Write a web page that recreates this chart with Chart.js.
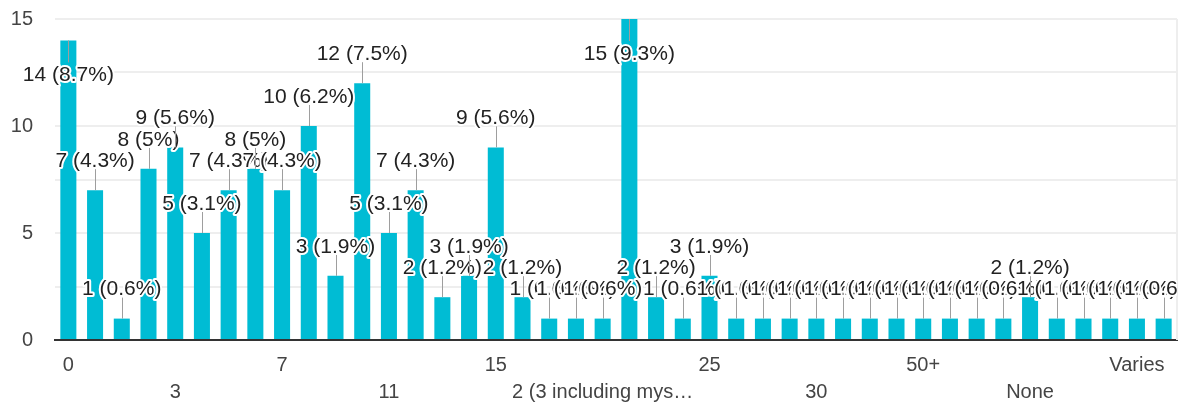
<!DOCTYPE html>
<html>
<head>
<meta charset="utf-8">
<script src="https://cdn.jsdelivr.net/npm/chart.js@4.4.1/dist/chart.umd.min.js"></script>
<style>
  html, body { margin: 0; padding: 0; background: #fff; }
  #wrap { width: 1190px; height: 406px; position: relative; }
</style>
</head>
<body>
<div id="wrap"><canvas id="c"></canvas></div>
<script>
// Answers and how many responses each one got
const categories = [
  '0', '1', '1.5', '2', '3', '4', '5', '6', '7', '8', '9', '10', '11', '12', '13', '14',
  '15', '16', '17', '18', '2 (3 including mys…', '20', '21', '22', '25', '26', '27', '28',
  '30', '32', '35', '40', '50+', '45', '60', '100', 'None', 'Not sure', 'Too many',
  'Unknown', 'Varies', 'Many'
];
const counts = [
  14, 7, 1, 8, 9, 5, 7, 8, 7, 10, 3, 12, 5, 7, 2, 3,
  9, 2, 1, 1, 1, 15, 2, 1, 3, 1, 1, 1,
  1, 1, 1, 1, 1, 1, 1, 1, 2, 1, 1,
  1, 1, 1
];
const yLabelValues = [0, 5, 10, 15];
const labelEvery = 4;

const FONT = '"Liberation Sans", Arial, sans-serif';
const total = counts.reduce((a, b) => a + b, 0);

function fmtPct(v) {
  return String(Math.round(v / total * 1000) / 10);
}

// count (percent) annotations with leader stems and a white halo
const valueLabels = {
  id: 'valueLabels',
  afterDatasetsDraw(chart) {
    const { ctx, chartArea } = chart;
    const meta = chart.getDatasetMeta(0);
    ctx.save();
    ctx.beginPath();
    ctx.rect(0, 0, chartArea.right, chart.height);
    ctx.clip();
    ctx.font = '21px ' + FONT;
    ctx.textAlign = 'center';
    ctx.textBaseline = 'middle';
    meta.data.forEach((bar, i) => {
      const v = counts[i];
      const text = v + ' (' + fmtPct(v) + '%)';
      const top = bar.y;
      let stemEnd, ty;
      if (top - 41 < chartArea.top) {
        stemEnd = top + 22; ty = top + 35;
      } else {
        stemEnd = top - 21; ty = top - 29;
      }
      const sx = Math.round(bar.x) + 0.5;
      ctx.strokeStyle = '#9e9e9e';
      ctx.lineWidth = 1;
      ctx.beginPath();
      ctx.moveTo(sx, top);
      ctx.lineTo(sx, stemEnd);
      ctx.stroke();
      ctx.lineWidth = 4;
      ctx.lineJoin = 'round';
      ctx.strokeStyle = '#ffffff';
      ctx.strokeText(text, bar.x, ty);
      ctx.fillStyle = '#222222';
      ctx.fillText(text, bar.x, ty);
    });
    ctx.restore();
  }
};

// light frame line on the right side of the plot
const plotEdge = {
  id: 'plotEdge',
  beforeDatasetsDraw(chart) {
    const { ctx, chartArea } = chart;
    ctx.save();
    ctx.strokeStyle = '#eeeeee';
    ctx.lineWidth = 2;
    ctx.beginPath();
    ctx.moveTo(chartArea.right, chartArea.top);
    ctx.lineTo(chartArea.right, chartArea.bottom);
    ctx.stroke();
    ctx.restore();
  }
};

new Chart(document.getElementById('c'), {
  type: 'bar',
  data: {
    labels: categories,
    datasets: [{
      data: counts,
      backgroundColor: '#00bcd4',
      borderWidth: 0,
      barPercentage: 0.6,
      categoryPercentage: 1.0
    }]
  },
  options: {
    responsive: true,
    maintainAspectRatio: false,
    animation: false,
    events: [],
    layout: { padding: { top: 19, right: 13, bottom: 0, left: 0 } },
    plugins: {
      legend: { display: false },
      tooltip: { enabled: false }
    },
    scales: {
      x: {
        offset: true,
        grid: { display: false, drawTicks: false },
        border: { display: true, color: '#333333', width: 2 },
        afterFit(s) { s.height = 66; },
        ticks: {
          autoSkip: false,
          minRotation: 0,
          maxRotation: 0,
          padding: 12,
          color: '#444444',
          font: { family: FONT, size: 20, lineHeight: '27px' },
          callback(value, index) {
            if (index % labelEvery !== 0) return '';
            const name = categories[index];
            return (index / labelEvery) % 2 === 0 ? [name] : ['', name];
          }
        }
      },
      y: {
        min: 0,
        max: 15,
        afterFit(s) {
          s.width = 55;
          s.paddingTop = 0;
          s.paddingBottom = 0;
        },
        grid: { color: '#eeeeee', lineWidth: 2, drawTicks: false },
        border: { display: false },
        ticks: {
          stepSize: 2.5,
          padding: 22,
          color: '#444444',
          font: { family: FONT, size: 20 },
          callback(value) { return yLabelValues.includes(value) ? String(value) : ''; }
        }
      }
    }
  },
  plugins: [plotEdge, valueLabels]
});
</script>
</body>
</html>
